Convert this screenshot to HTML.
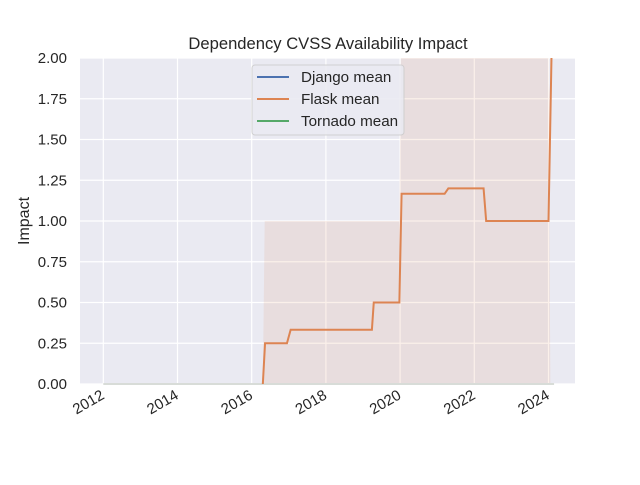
<!DOCTYPE html>
<html><head><meta charset="utf-8"><style>
body{margin:0;background:#fff;font-family:"Liberation Sans","DejaVu Sans",sans-serif}
svg text{font-family:"Liberation Sans","DejaVu Sans",sans-serif;fill:#262626}
</style></head><body>
<svg id="c" width="640" height="480" xmlns="http://www.w3.org/2000/svg">
<rect x="80" y="58" width="495" height="326" fill="#eaeaf2"/>
<g id="grid"></g><g id="fills"></g><g id="lines"></g><g id="ticks"></g>
<text x="328" y="49" text-anchor="middle" font-size="16.6">Dependency CVSS Availability Impact</text>
<text transform="translate(29,221) rotate(-90)" text-anchor="middle" font-size="16">Impact</text>
<g>
<rect x="252" y="65" width="152" height="70" rx="3" fill="#eaeaf2" stroke="#cccccc" opacity="0.85"/>
<line x1="257" y1="77" x2="289" y2="77" stroke="#4c72b0" stroke-width="2"/>
<text x="301" y="82" font-size="15.2">Django mean</text>
<line x1="257" y1="99" x2="289" y2="99" stroke="#dd8452" stroke-width="2"/>
<text x="301" y="104" font-size="15.2">Flask mean</text>
<line x1="257" y1="121" x2="289" y2="121" stroke="#55a868" stroke-width="2"/>
<text x="301" y="126" font-size="15.2">Tornado mean</text>
</g>
</svg>
<script>
const xTicks=[2012,2014,2016,2018,2020,2022,2024];
const yTicks=[0,0.25,0.5,0.75,1.0,1.25,1.5,1.75,2.0];
const flaskX=[2016.3,2016.36,2016.95,2017.05,2019.24,2019.29,2019.98,2020.04,2021.2,2021.3,2022.25,2022.32,2024.0,2024.08];
const flaskY=[0,0.25,0.25,0.333,0.333,0.5,0.5,1.167,1.167,1.2,1.2,1.0,1.0,2.0];
const bandX=[2016.3,2016.35,2019.98,2020.02,2024.0,2024.05];
const bandHi=[0,1.0,1.0,2.0,2.0,0];
const zeroX=[2012,2024.15];
const zeroY=[0,0];
const sx=v=>103.3+(v-2012)*37.1;
const sy=v=>384-v*163;
const NS="http://www.w3.org/2000/svg";
function mk(t,a,p){const e=document.createElementNS(NS,t);for(const k in a)e.setAttribute(k,a[k]);p.appendChild(e);return e;}
const g=document.getElementById('grid'),tk=document.getElementById('ticks');
xTicks.forEach(t=>{
 const l=mk('line',{x1:sx(t),x2:sx(t),y1:58,y2:384,stroke:'#fff','stroke-width':1.2},g);
 
 
 const tx=mk('text',{x:0,y:0,'font-size':15,'text-anchor':'end',transform:`translate(${sx(t)+2},${398}) rotate(-30)`},tk);
 tx.textContent=t;
 
 
});
yTicks.forEach(t=>{
 const l=mk('line',{x1:80,x2:575,y1:sy(t),y2:sy(t),stroke:'#fff','stroke-width':1.2},g);
 
 
 const tx=mk('text',{x:67,y:sy(t)+5,'font-size':15,'text-anchor':'end'},tk);
 tx.textContent=t.toFixed(2);
 
 
});
const f=document.getElementById('fills'),ln=document.getElementById('lines');
let d=`M${sx(bandX[0])},${sy(0)}`;
bandX.forEach((x,i)=>d+=` L${sx(x)},${sy(bandHi[i])}`);
const band=mk('path',{d:d+'Z',fill:'#dd8452','fill-opacity':0.12},f);


const z=mk('polyline',{points:zeroX.map((x,i)=>sx(x)+','+sy(zeroY[i])).join(' '),fill:'none',stroke:'#d8dcd8','stroke-width':2},ln);


const fl=mk('polyline',{points:flaskX.map((x,i)=>sx(x)+','+sy(flaskY[i])).join(' '),fill:'none',stroke:'#dd8452','stroke-width':2},ln);


</script>
</body></html>
